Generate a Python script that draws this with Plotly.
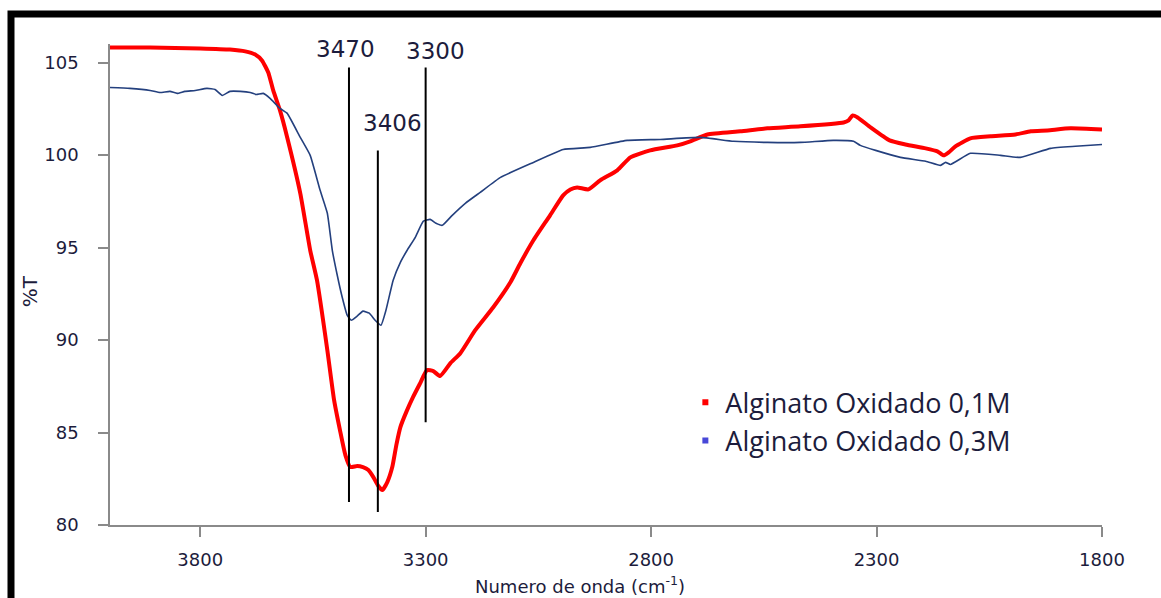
import plotly.graph_objects as go

# FTIR spectra: wavenumber (cm-1) and transmittance (%T)
wn_01 = [4000, 3911, 3800, 3734, 3700, 3678, 3663, 3649, 3638, 3623, 3607, 3578,
         3556, 3541, 3518, 3503, 3490, 3478, 3467, 3452, 3439, 3427, 3416, 3405,
         3396, 3385, 3374, 3365, 3356, 3343, 3328, 3312, 3297, 3283, 3268, 3245,
         3223, 3190, 3150, 3112, 3090, 3061, 3024, 2995, 2979, 2964, 2939, 2913,
         2875, 2846, 2802, 2742, 2713, 2675, 2602, 2542, 2469, 2373, 2362, 2353,
         2342, 2313, 2271, 2236, 2191, 2165, 2151, 2140, 2125, 2092, 2047, 1992,
         1958, 1921, 1870, 1800]
t_01 = [105.81, 105.81, 105.76, 105.70, 105.60, 105.43, 105.11, 104.46, 103.49,
        102.41, 100.95, 97.93, 94.85, 93.23, 89.45, 86.75, 85.13, 83.78, 83.13,
        83.19, 83.13, 82.97, 82.59, 82.11, 81.89, 82.32, 83.13, 84.32, 85.29,
        86.10, 86.91, 87.67, 88.37, 88.32, 88.05, 88.75, 89.29, 90.53, 91.77,
        93.12, 94.15, 95.39, 96.74, 97.82, 98.14, 98.25, 98.14, 98.63, 99.17,
        99.87, 100.25, 100.52, 100.74, 101.11, 101.28, 101.44, 101.55, 101.76,
        101.87, 102.14, 102.03, 101.49, 100.79, 100.57, 100.36, 100.20, 99.98,
        100.14, 100.47, 100.90, 101.01, 101.11, 101.28, 101.33, 101.44, 101.38]

wn_03 = [4000, 3956, 3911, 3889, 3867, 3851, 3834, 3811, 3785, 3767, 3751, 3734,
         3711, 3689, 3676, 3660, 3645, 3623, 3607, 3578, 3556, 3534, 3518, 3507,
         3496, 3485, 3474, 3465, 3452, 3439, 3425, 3412, 3399, 3388, 3372, 3356,
         3341, 3323, 3305, 3290, 3277, 3263, 3241, 3212, 3179, 3134, 3061, 2995,
         2935, 2853, 2780, 2691, 2617, 2542, 2469, 2396, 2351, 2336, 2302, 2247,
         2191, 2158, 2147, 2136, 2092, 2025, 1981, 1914, 1859, 1800]
t_03 = [103.65, 103.60, 103.49, 103.38, 103.44, 103.33, 103.44, 103.49, 103.60,
        103.54, 103.22, 103.44, 103.44, 103.38, 103.27, 103.33, 103.06, 102.52,
        102.25, 100.95, 99.98, 98.09, 96.85, 94.85, 93.50, 92.31, 91.34, 91.07,
        91.29, 91.56, 91.45, 91.07, 90.80, 91.61, 93.23, 94.20, 94.85, 95.55,
        96.42, 96.52, 96.31, 96.20, 96.74, 97.39, 97.98, 98.79, 99.60, 100.30,
        100.41, 100.79, 100.84, 100.95, 100.74, 100.68, 100.68, 100.79, 100.74,
        100.52, 100.25, 99.87, 99.66, 99.44, 99.60, 99.49, 100.09, 99.98, 99.87,
        100.36, 100.47, 100.57]

series_names = ["Alginato Oxidado 0,1M", "Alginato Oxidado 0,3M"]

# marked band positions and the vertical extent of their guide lines
peak_wn = [3470, 3406, 3300]
peak_labels = ["3470", "3406", "3300"]
peak_top = [104.73, 100.25, 104.73]
peak_bottom = [81.24, 80.70, 85.56]

x_ticks = [3800, 3300, 2800, 2300, 1800]
y_ticks = [80, 85, 90, 95, 100, 105]

TEXT = "#1c1c3c"
AXIS = "#8a8a8a"

fig = go.Figure()

fig.add_trace(go.Scatter(x=wn_01, y=t_01, mode="lines", name=series_names[0],
                         line=dict(color="#ff0000", width=4, shape="spline",
                                   smoothing=0.5),
                         showlegend=False))
fig.add_trace(go.Scatter(x=wn_03, y=t_03, mode="lines", name=series_names[1],
                         line=dict(color="#24407e", width=1.6, shape="spline",
                                   smoothing=0.4),
                         showlegend=False))

# legend entries shown as small squares
for name, col in zip(series_names, ["#ff0000", "#4848d8"]):
    fig.add_trace(go.Scatter(x=[None], y=[None], mode="markers", name=name,
                             marker=dict(symbol="square", size=6, color=col)))

shapes = []
annotations = []
label_dx = [-3, 15, 10]
label_dy = [3, 12, 1]
for wn, lab, top, bot, dx, dy in zip(peak_wn, peak_labels, peak_top, peak_bottom,
                                     label_dx, label_dy):
    shapes.append(dict(type="line", xref="x", yref="y", x0=wn, x1=wn, y0=bot, y1=top,
                       line=dict(color="black", width=2)))
    annotations.append(dict(x=wn, y=top, xref="x", yref="y", text=lab,
                            showarrow=False, xanchor="center", yanchor="bottom",
                            xshift=dx, yshift=dy,
                            font=dict(family="DejaVu Sans", size=23, color=TEXT)))

# outer black frame
shapes.append(dict(type="rect", xref="paper", yref="paper",
                   x0=-0.0998, x1=1.08, y0=-0.2, y1=1.0624,
                   line=dict(color="black", width=7), fillcolor="rgba(0,0,0,0)",
                   layer="above"))

annotations.append(dict(x=-0.081, y=0.485, xref="paper", yref="paper", text="%T",
                        textangle=-90, showarrow=False, xanchor="center",
                        yanchor="middle",
                        font=dict(family="DejaVu Sans", size=20, color=TEXT)))
annotations.append(dict(x=0.474, y=-0.124, xref="paper", yref="paper",
                        text="Numero de onda (cm<sup>-1</sup>)", showarrow=False,
                        xanchor="center", yanchor="middle",
                        font=dict(family="DejaVu Sans", size=18, color=TEXT)))

fig.update_layout(
    width=1161, height=598,
    margin=dict(l=110, r=59, t=44, b=73),
    paper_bgcolor="white", plot_bgcolor="white",
    shapes=shapes, annotations=annotations,
    legend=dict(x=0.58, y=0.305, xanchor="left", yanchor="top",
                bgcolor="rgba(0,0,0,0)", itemwidth=30,
                font=dict(family="Open Sans", size=27, color=TEXT)),
    xaxis=dict(range=[4000, 1800], tickvals=x_ticks, showgrid=False, zeroline=False,
               showline=True, linecolor=AXIS, linewidth=1.5, ticks="outside",
               ticklen=10, tickcolor=AXIS, tickwidth=1.5, ticklabelstandoff=8,
               tickfont=dict(family="DejaVu Sans", size=18, color=TEXT)),
    yaxis=dict(range=[80, 106], tickvals=y_ticks, showgrid=False, zeroline=False,
               showline=True, linecolor=AXIS, linewidth=1.5, ticks="outside",
               ticklen=10, tickcolor=AXIS, tickwidth=1.5, ticklabelstandoff=16,
               tickfont=dict(family="DejaVu Sans", size=18, color=TEXT)),
)

fig.write_html("out.html")
